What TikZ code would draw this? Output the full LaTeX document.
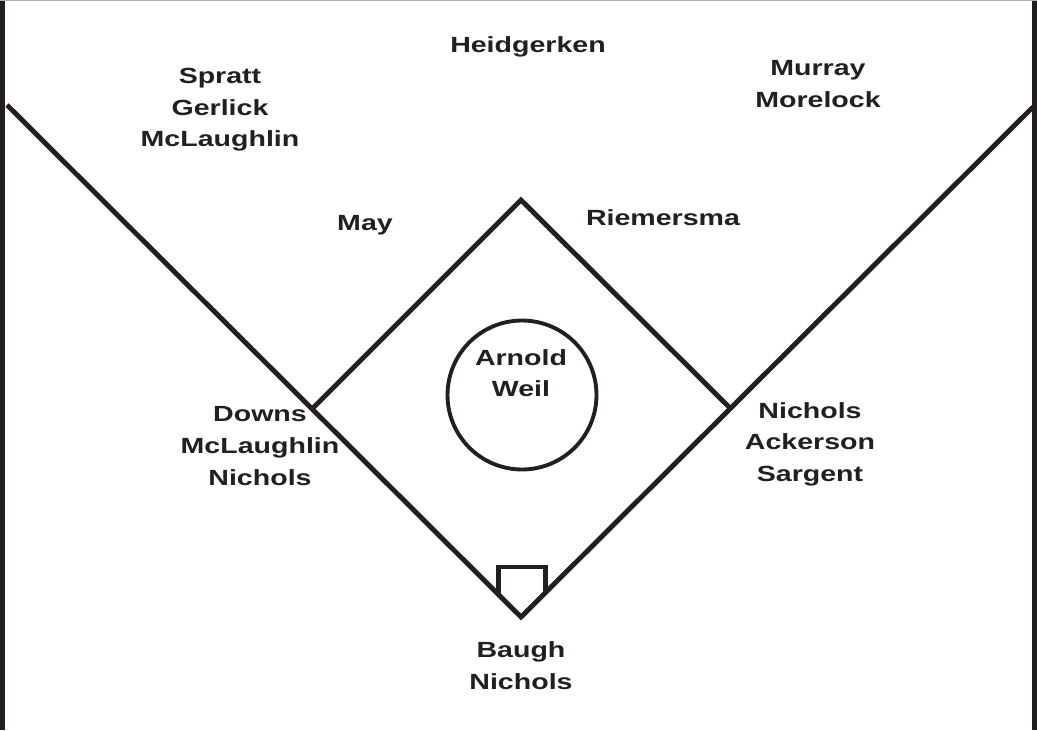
\documentclass[tikz,border=0pt]{standalone}
\usepackage{fontspec}
\newfontfamily\fieldfont[FakeStretch=1.3]{Liberation Sans}
\usetikzlibrary{positioning}
\definecolor{Ink}{HTML}{231F20}

\begin{document}
\begin{tikzpicture}[x=0.02cm, y=-0.02cm,
    fline/.style={line width=2.8pt, color=Ink, line join=miter},
    player/.style={font=\fieldfont\bfseries\fontsize{12.5}{18}\selectfont,
                   align=center, text=Ink, inner sep=2pt}
  ]
    \useasboundingbox (0,0) rectangle (1037,730);

    % frame
    \fill[Ink] (0,0) rectangle (5,730);
    \fill[Ink] (1032,0) rectangle (1037,730);
    \draw[gray!60, line width=0.6pt] (0,0.4) -- (1037,0.4);

    % bases and foul poles
    \coordinate (home) at (521,617);
    \coordinate (first) at (730,408);
    \coordinate (second) at (521,200);
    \coordinate (third) at (313,408);
    \coordinate (lfoul) at (7,105);
    \coordinate (rfoul) at (1033,107);
    \coordinate (plateL) at (498.5,594);
    \coordinate (plateR) at (545.5,594);

    \draw[fline] (lfoul) -- (home) -- (rfoul);
    \draw[fline] (third) -- (second) -- (first);
    \draw[fline] (plateL) -- ++(0,-27) -| (plateR);

    % mound
    \node[circle, draw=Ink, line width=2.2pt, minimum size=2.98cm] (mound) at (522,395) {};

    % players
    \node[player] (cf) at (528,47) {Heidgerken};
    \node[player] (lf) at (220,110) {Spratt\\Gerlick\\McLaughlin};
    \node[player] (rf) at (818,84) {Murray\\Morelock};
    \node[player] (ss) at (365,225) {May};
    \node[player] (sb) at (663,218) {Riemersma};
    \node[player] (p) at (521,373) {Arnold\\Weil};
    \node[player] (tb) at (260,446) {Downs\\McLaughlin\\Nichols};
    \node[player] (fb) at (810,444) {Nichols\\Ackerson\\Sargent};
    \node[player, below=0.42cm of home] (c) {Baugh\\Nichols};
  \end{tikzpicture}
\end{document}
